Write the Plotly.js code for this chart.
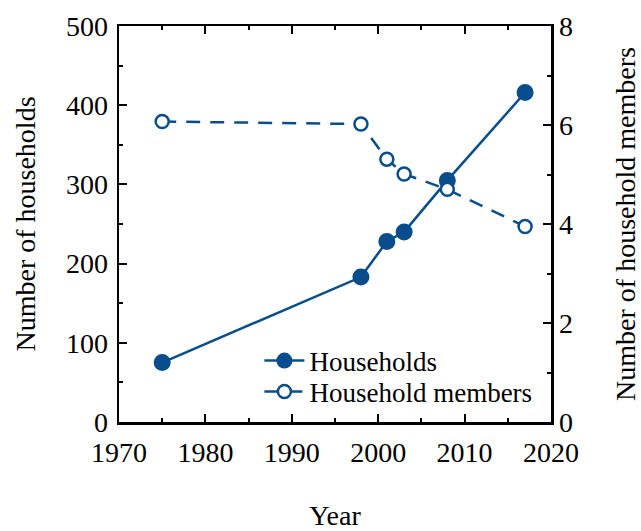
<!DOCTYPE html>
<html>
<head>
<meta charset="utf-8">
<script src="https://cdn.plot.ly/plotly-3.0.1.min.js"></script>
<style>html,body{margin:0;padding:0;background:#fff;}#chart{width:641px;height:531px;}</style>
</head>
<body>
<div id="chart"></div>
<script>
const years = [1975, 1998, 2001, 2003, 2008, 2017];
const households = [75, 183, 228, 240, 305, 416];
const members = [6.07, 6.02, 5.31, 5.01, 4.70, 3.95];
const seriesNames = ["Households", "Household members"];
const xTitle = "Year";
const yTitle = "Number of households";
const y2Title = "Number of household members";

const blue = "#0a4d8c";
const font = "Liberation Serif, Times New Roman, serif";

const traces = [
  {
    x: years, y: households, name: seriesNames[0], type: "scatter", mode: "lines+markers",
    line: {color: blue, width: 2.5},
    marker: {color: blue, size: 17, symbol: "circle"},
    yaxis: "y", legend: "legend"
  },
  {
    x: years, y: members, name: seriesNames[1], type: "scatter", mode: "lines+markers",
    line: {color: blue, width: 2.5, dash: "14px,10px"},
    marker: {color: "#ffffff", size: 13, symbol: "circle", line: {color: blue, width: 2.5}},
    yaxis: "y2", legend: "legend2"
  }
];

const axisCommon = {
  showline: true, linecolor: "#000", linewidth: 2.5,
  ticks: "inside", ticklen: 8, tickwidth: 2, tickcolor: "#000",
  showgrid: false, zeroline: false,
  tickfont: {family: font, size: 28, color: "#000"},
  minor: {ticks: "inside", ticklen: 4, tickwidth: 2, tickcolor: "#000", showgrid: false}
};

const legendCommon = {
  xanchor: "left", yanchor: "middle",
  bgcolor: "rgba(0,0,0,0)", font: {family: font, size: 27, color: "#000"},
  itemwidth: 40
};

const layout = {
  width: 641, height: 531,
  margin: {l: 119, r: 90, t: 26, b: 109},
  paper_bgcolor: "#fff", plot_bgcolor: "#fff",
  showlegend: true,
  legend: Object.assign({}, legendCommon, {x: 0.325, y: 0.154}),
  legend2: Object.assign({}, legendCommon, {x: 0.325, y: 0.076}),
  xaxis: Object.assign({}, axisCommon, {
    range: [1970, 2020], dtick: 10, tick0: 1970, mirror: "ticks",
    ticklabelstandoff: 4,
    minor: Object.assign({}, axisCommon.minor, {dtick: 5}),
    title: {text: xTitle, font: {family: font, size: 28, color: "#000"}, standoff: 45}
  }),
  yaxis: Object.assign({}, axisCommon, {
    range: [0, 500], dtick: 100, tick0: 0,
    ticklabelstandoff: 3,
    minor: Object.assign({}, axisCommon.minor, {dtick: 50}),
    title: {text: yTitle, font: {family: font, size: 28, color: "#000"}, standoff: 22}
  }),
  yaxis2: Object.assign({}, axisCommon, {
    range: [0, 8], dtick: 2, tick0: 0, overlaying: "y", side: "right",
    minor: Object.assign({}, axisCommon.minor, {dtick: 1}),
    title: {text: y2Title, font: {family: font, size: 28, color: "#000"}, standoff: 46}
  })
};

Plotly.newPlot("chart", traces, layout, {displayModeBar: false, staticPlot: true});
</script>
</body>
</html>
